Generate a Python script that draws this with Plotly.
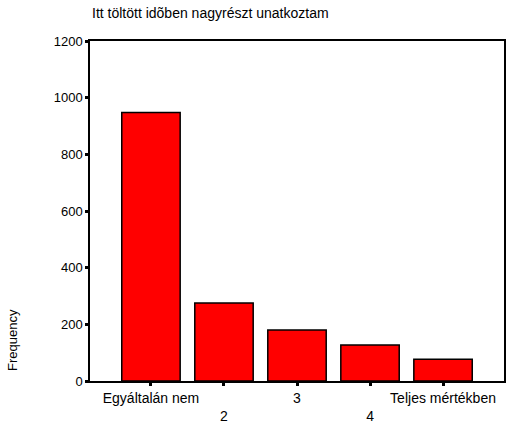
import plotly.graph_objects as go

# answer categories and counts
categories = ["Egyáltalán nem", "2", "3", "4", "Teljes mértékben"]
tick_labels = ["Egyáltalán nem", "<br>2", "3", "<br>4", "Teljes mértékben"]
frequency = [948, 275, 180, 127, 77]
y_ticks = [0, 200, 400, 600, 800, 1000, 1200]

fig = go.Figure(
    go.Bar(
        x=categories,
        y=frequency,
        width=0.8,
        marker=dict(color="#ff0000", line=dict(color="black", width=1.5)),
    )
)

fig.update_layout(
    width=511,
    height=426,
    margin=dict(l=90, r=7, t=41, b=45),
    paper_bgcolor="white",
    plot_bgcolor="white",
    font=dict(family="Liberation Sans, Arial, sans-serif", size=13, color="black"),
    showlegend=False,
)

fig.update_xaxes(
    type="category",
    range=[-0.835, 4.835],
    tickvals=categories,
    ticktext=tick_labels,
    tickfont=dict(size=14),
    ticks="outside",
    ticklen=3,
    tickwidth=3,
    tickcolor="black",
    showline=True,
    linecolor="black",
    linewidth=1.5,
    mirror=True,
    showgrid=False,
    automargin=False,
)
fig.update_yaxes(
    range=[0, 1200],
    tickvals=y_ticks,
    ticks="outside",
    ticklen=3,
    tickwidth=3,
    tickcolor="black",
    showline=True,
    linecolor="black",
    linewidth=1.5,
    mirror=True,
    showgrid=False,
    zeroline=False,
    automargin=False,
)

# chart title, left aligned with the plot area
fig.add_annotation(
    text="Itt töltött idõben nagyrészt unatkoztam",
    xref="paper", yref="paper",
    x=0, y=1 + 28 / 340,
    xanchor="left", yanchor="middle",
    showarrow=False,
    font=dict(size=14),
)

fig.add_annotation(
    text="Frequency",
    textangle=-90,
    xref="paper", yref="paper",
    x=-78 / 414, y=(381 - 340) / 340,
    xanchor="center", yanchor="middle",
    showarrow=False,
    font=dict(size=13),
)

# drop the browser's default page margin so the figure sits at the top-left corner
fig.write_html(
    "out.html",
    config={"displayModeBar": False},
    post_script="document.body.style.margin = '0';",
)
